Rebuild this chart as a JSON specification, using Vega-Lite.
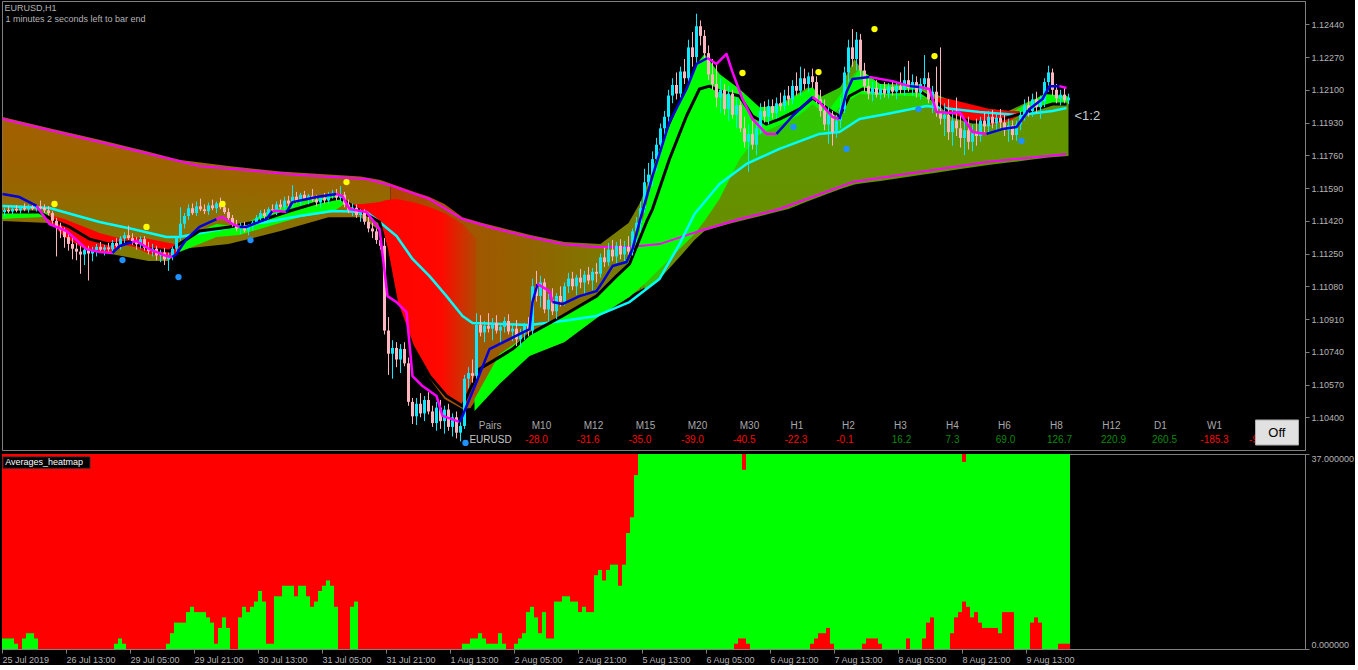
{
"$schema":"https://vega.github.io/schema/vega-lite/v6.json",
"background":"#000000",
"padding":{"left":1,"top":0,"right":0,"bottom":0},
"spacing":2,
"config":{"view":{"stroke":"#808080","strokeWidth":1},"font":"Liberation Sans","axis":{"domainColor":"#808080","tickColor":"#808080","labelColor":"#b4b4b4","labelFont":"Liberation Sans","labelFontSize":9,"tickSize":4,"grid":false,"title":null}},
"datasets":{
"cd":[
{"k":0,"o":1.11465,"h":1.11488,"l":1.11446,"c":1.11476},{"k":1,"o":1.11476,"h":1.11495,"l":1.11459,"c":1.11468},{"k":2,"o":1.11468,"h":1.1149,"l":1.11455,"c":1.11482},{"k":3,"o":1.11482,"h":1.11502,"l":1.11464,"c":1.11473},{"k":4,"o":1.11473,"h":1.11498,"l":1.11458,"c":1.11486},{"k":5,"o":1.11486,"h":1.1151,"l":1.1147,"c":1.11479},{"k":6,"o":1.11479,"h":1.11504,"l":1.11462,"c":1.11491},{"k":7,"o":1.11491,"h":1.11513,"l":1.11475,"c":1.11483},{"k":8,"o":1.11483,"h":1.115,"l":1.11468,"c":1.11494},{"k":9,"o":1.11494,"h":1.11525,"l":1.11478,"c":1.11487},
{"k":10,"o":1.11487,"h":1.11506,"l":1.1146,"c":1.11474},{"k":11,"o":1.11474,"h":1.11496,"l":1.11448,"c":1.1146},{"k":12,"o":1.1146,"h":1.1147,"l":1.11405,"c":1.1142},{"k":13,"o":1.1142,"h":1.11435,"l":1.11235,"c":1.1139},{"k":14,"o":1.1139,"h":1.1141,"l":1.1133,"c":1.1137},{"k":15,"o":1.1137,"h":1.11385,"l":1.1128,"c":1.11335},{"k":16,"o":1.11335,"h":1.1136,"l":1.11265,"c":1.113},{"k":17,"o":1.113,"h":1.1133,"l":1.1122,"c":1.11275},{"k":18,"o":1.11275,"h":1.11305,"l":1.11215,"c":1.1126},{"k":19,"o":1.1126,"h":1.1129,"l":1.11145,"c":1.11245},
{"k":20,"o":1.11245,"h":1.11285,"l":1.1119,"c":1.1127},{"k":21,"o":1.1127,"h":1.1129,"l":1.1111,"c":1.1125},{"k":22,"o":1.1125,"h":1.11285,"l":1.1121,"c":1.11268},{"k":23,"o":1.11268,"h":1.113,"l":1.11235,"c":1.11285},{"k":24,"o":1.11285,"h":1.1131,"l":1.11255,"c":1.1127},{"k":25,"o":1.1127,"h":1.11295,"l":1.1124,"c":1.11282},{"k":26,"o":1.11282,"h":1.11305,"l":1.11258,"c":1.11272},{"k":27,"o":1.11272,"h":1.1132,"l":1.1125,"c":1.11305},{"k":28,"o":1.11305,"h":1.1133,"l":1.11275,"c":1.1129},{"k":29,"o":1.1129,"h":1.1134,"l":1.1127,"c":1.11328},
{"k":30,"o":1.11328,"h":1.1136,"l":1.11305,"c":1.11345},{"k":31,"o":1.11345,"h":1.11395,"l":1.1132,"c":1.1133},{"k":32,"o":1.1133,"h":1.11355,"l":1.11295,"c":1.1131},{"k":33,"o":1.1131,"h":1.11335,"l":1.1127,"c":1.11298},{"k":34,"o":1.11298,"h":1.1134,"l":1.11275,"c":1.11325},{"k":35,"o":1.11325,"h":1.1134,"l":1.11265,"c":1.1128},{"k":36,"o":1.1128,"h":1.1131,"l":1.11245,"c":1.11262},{"k":37,"o":1.11262,"h":1.113,"l":1.11235,"c":1.11275},{"k":38,"o":1.11275,"h":1.1129,"l":1.11215,"c":1.1124},{"k":39,"o":1.1124,"h":1.1127,"l":1.11205,"c":1.11255},
{"k":40,"o":1.11255,"h":1.1128,"l":1.1119,"c":1.1122},{"k":41,"o":1.1122,"h":1.11255,"l":1.1116,"c":1.11235},{"k":42,"o":1.11235,"h":1.11285,"l":1.11215,"c":1.11275},{"k":43,"o":1.11275,"h":1.1134,"l":1.1126,"c":1.1133},{"k":44,"o":1.1133,"h":1.1149,"l":1.11315,"c":1.11405},{"k":45,"o":1.11405,"h":1.1146,"l":1.1138,"c":1.11445},{"k":46,"o":1.11445,"h":1.11505,"l":1.11425,"c":1.11485},{"k":47,"o":1.11485,"h":1.1151,"l":1.1145,"c":1.1146},{"k":48,"o":1.1146,"h":1.1152,"l":1.11445,"c":1.11495},{"k":49,"o":1.11495,"h":1.11535,"l":1.1147,"c":1.1148},
{"k":50,"o":1.1148,"h":1.11505,"l":1.11455,"c":1.1147},{"k":51,"o":1.1147,"h":1.11515,"l":1.1145,"c":1.115},{"k":52,"o":1.115,"h":1.1153,"l":1.11475,"c":1.11485},{"k":53,"o":1.11485,"h":1.1152,"l":1.1146,"c":1.1151},{"k":54,"o":1.1151,"h":1.1154,"l":1.1148,"c":1.1149},{"k":55,"o":1.1149,"h":1.11515,"l":1.11455,"c":1.11465},{"k":56,"o":1.11465,"h":1.11485,"l":1.1142,"c":1.11435},{"k":57,"o":1.11435,"h":1.1145,"l":1.1139,"c":1.114},{"k":58,"o":1.114,"h":1.11425,"l":1.11365,"c":1.1138},{"k":59,"o":1.1138,"h":1.1141,"l":1.1135,"c":1.11395},
{"k":60,"o":1.11395,"h":1.11415,"l":1.1136,"c":1.1137},{"k":61,"o":1.1137,"h":1.114,"l":1.11345,"c":1.1139},{"k":62,"o":1.1139,"h":1.1142,"l":1.1137,"c":1.1141},{"k":63,"o":1.1141,"h":1.1145,"l":1.11395,"c":1.11435},{"k":64,"o":1.11435,"h":1.11475,"l":1.1141,"c":1.1146},{"k":65,"o":1.1146,"h":1.1148,"l":1.1143,"c":1.11445},{"k":66,"o":1.11445,"h":1.1149,"l":1.1143,"c":1.1148},{"k":67,"o":1.1148,"h":1.11505,"l":1.11455,"c":1.1147},{"k":68,"o":1.1147,"h":1.1152,"l":1.1145,"c":1.11505},{"k":69,"o":1.11505,"h":1.1153,"l":1.1148,"c":1.1149},
{"k":70,"o":1.1149,"h":1.11545,"l":1.11475,"c":1.11525},{"k":71,"o":1.11525,"h":1.1155,"l":1.11495,"c":1.1151},{"k":72,"o":1.1151,"h":1.11605,"l":1.1149,"c":1.11545},{"k":73,"o":1.11545,"h":1.1157,"l":1.1151,"c":1.1152},{"k":74,"o":1.1152,"h":1.11565,"l":1.115,"c":1.11555},{"k":75,"o":1.11555,"h":1.11575,"l":1.11525,"c":1.11535},{"k":76,"o":1.11535,"h":1.1156,"l":1.11505,"c":1.1155},{"k":77,"o":1.1155,"h":1.11585,"l":1.1152,"c":1.1153},{"k":78,"o":1.1153,"h":1.11555,"l":1.11495,"c":1.11515},{"k":79,"o":1.11515,"h":1.1155,"l":1.1149,"c":1.1154},
{"k":80,"o":1.1154,"h":1.11565,"l":1.1151,"c":1.11525},{"k":81,"o":1.11525,"h":1.1157,"l":1.1151,"c":1.11555},{"k":82,"o":1.11555,"h":1.1158,"l":1.11535,"c":1.11565},{"k":83,"o":1.11565,"h":1.11585,"l":1.11525,"c":1.1154},{"k":84,"o":1.1154,"h":1.116,"l":1.1152,"c":1.11555},{"k":85,"o":1.11555,"h":1.1157,"l":1.1149,"c":1.11505},{"k":86,"o":1.11505,"h":1.1153,"l":1.1146,"c":1.11475},{"k":87,"o":1.11475,"h":1.1151,"l":1.11445,"c":1.11488},{"k":88,"o":1.11488,"h":1.11505,"l":1.11435,"c":1.1145},{"k":89,"o":1.1145,"h":1.1148,"l":1.11415,"c":1.11465},
{"k":90,"o":1.11465,"h":1.1148,"l":1.114,"c":1.11415},{"k":91,"o":1.11415,"h":1.1144,"l":1.1136,"c":1.1138},{"k":92,"o":1.1138,"h":1.1141,"l":1.1133,"c":1.11365},{"k":93,"o":1.11365,"h":1.1138,"l":1.113,"c":1.1132},{"k":94,"o":1.1132,"h":1.1134,"l":1.1127,"c":1.1129},{"k":95,"o":1.1129,"h":1.1133,"l":1.1083,"c":1.1085},{"k":96,"o":1.1085,"h":1.1092,"l":1.1062,"c":1.1073},{"k":97,"o":1.1073,"h":1.108,"l":1.106,"c":1.1076},{"k":98,"o":1.1076,"h":1.1079,"l":1.1066,"c":1.107},{"k":99,"o":1.107,"h":1.1078,"l":1.1063,"c":1.10755},
{"k":100,"o":1.10755,"h":1.1079,"l":1.10665,"c":1.1068},{"k":101,"o":1.1068,"h":1.1071,"l":1.1046,"c":1.1048},{"k":102,"o":1.1048,"h":1.105,"l":1.10365,"c":1.10405},{"k":103,"o":1.10405,"h":1.105,"l":1.1036,"c":1.1047},{"k":104,"o":1.1047,"h":1.10525,"l":1.104,"c":1.1042},{"k":105,"o":1.1042,"h":1.1051,"l":1.1038,"c":1.1049},{"k":106,"o":1.1049,"h":1.1053,"l":1.10415,"c":1.1043},{"k":107,"o":1.1043,"h":1.1046,"l":1.1035,"c":1.1037},{"k":108,"o":1.1037,"h":1.1048,"l":1.1033,"c":1.1045},{"k":109,"o":1.1045,"h":1.1049,"l":1.1034,"c":1.1038},
{"k":110,"o":1.1038,"h":1.1046,"l":1.10315,"c":1.1044},{"k":111,"o":1.1044,"h":1.1047,"l":1.1033,"c":1.1035},{"k":112,"o":1.1035,"h":1.1042,"l":1.103,"c":1.104},{"k":113,"o":1.104,"h":1.1043,"l":1.1029,"c":1.1032},{"k":114,"o":1.1032,"h":1.1038,"l":1.10275,"c":1.10355},{"k":115,"o":1.10355,"h":1.1062,"l":1.1034,"c":1.106},{"k":116,"o":1.106,"h":1.1066,"l":1.1055,"c":1.1063},{"k":117,"o":1.1063,"h":1.107,"l":1.1058,"c":1.10615},{"k":118,"o":1.10615,"h":1.1094,"l":1.106,"c":1.1088},{"k":119,"o":1.1088,"h":1.1093,"l":1.1082,"c":1.1084},
{"k":120,"o":1.1084,"h":1.109,"l":1.1079,"c":1.10875},{"k":121,"o":1.10875,"h":1.1094,"l":1.1084,"c":1.1086},{"k":122,"o":1.1086,"h":1.10915,"l":1.108,"c":1.1089},{"k":123,"o":1.1089,"h":1.1093,"l":1.10835,"c":1.1085},{"k":124,"o":1.1085,"h":1.1089,"l":1.1078,"c":1.1087},{"k":125,"o":1.1087,"h":1.1092,"l":1.1084,"c":1.109},{"k":126,"o":1.109,"h":1.10935,"l":1.1083,"c":1.10845},{"k":127,"o":1.10845,"h":1.1088,"l":1.10795,"c":1.1086},{"k":128,"o":1.1086,"h":1.10905,"l":1.1077,"c":1.10805},{"k":129,"o":1.10805,"h":1.1086,"l":1.10765,"c":1.10835},
{"k":130,"o":1.10835,"h":1.1089,"l":1.108,"c":1.10875},{"k":131,"o":1.10875,"h":1.1092,"l":1.1082,"c":1.1085},{"k":132,"o":1.1085,"h":1.1112,"l":1.1083,"c":1.1108},{"k":133,"o":1.1108,"h":1.1116,"l":1.11,"c":1.1103},{"k":134,"o":1.1103,"h":1.11135,"l":1.1097,"c":1.111},{"k":135,"o":1.111,"h":1.1112,"l":1.1094,"c":1.1096},{"k":136,"o":1.1096,"h":1.1104,"l":1.109,"c":1.1101},{"k":137,"o":1.1101,"h":1.1107,"l":1.1093,"c":1.1095},{"k":138,"o":1.1095,"h":1.11045,"l":1.1091,"c":1.1103},{"k":139,"o":1.1103,"h":1.1108,"l":1.10975,"c":1.11},
{"k":140,"o":1.11,"h":1.111,"l":1.1098,"c":1.1108},{"k":141,"o":1.1108,"h":1.1115,"l":1.11045,"c":1.1112},{"k":142,"o":1.1112,"h":1.11155,"l":1.1106,"c":1.1108},{"k":143,"o":1.1108,"h":1.1114,"l":1.11035,"c":1.11125},{"k":144,"o":1.11125,"h":1.1117,"l":1.1107,"c":1.111},{"k":145,"o":1.111,"h":1.1116,"l":1.1104,"c":1.1114},{"k":146,"o":1.1114,"h":1.1118,"l":1.1109,"c":1.1111},{"k":147,"o":1.1111,"h":1.11175,"l":1.1106,"c":1.11155},{"k":148,"o":1.11155,"h":1.112,"l":1.111,"c":1.11145},{"k":149,"o":1.11145,"h":1.1125,"l":1.11125,"c":1.1123},
{"k":150,"o":1.1123,"h":1.1128,"l":1.1118,"c":1.11205},{"k":151,"o":1.11205,"h":1.11305,"l":1.11185,"c":1.1127},{"k":152,"o":1.1127,"h":1.1132,"l":1.1121,"c":1.11235},{"k":153,"o":1.11235,"h":1.1131,"l":1.112,"c":1.1129},{"k":154,"o":1.1129,"h":1.11325,"l":1.1122,"c":1.11245},{"k":155,"o":1.11245,"h":1.11315,"l":1.1121,"c":1.11285},{"k":156,"o":1.11285,"h":1.1134,"l":1.1123,"c":1.1126},{"k":157,"o":1.1126,"h":1.1138,"l":1.1124,"c":1.11365},{"k":158,"o":1.11365,"h":1.1144,"l":1.1131,"c":1.1141},{"k":159,"o":1.1141,"h":1.1152,"l":1.1136,"c":1.11485},
{"k":160,"o":1.11485,"h":1.1169,"l":1.1146,"c":1.1162},{"k":161,"o":1.1162,"h":1.1172,"l":1.1156,"c":1.1166},{"k":162,"o":1.1166,"h":1.1178,"l":1.116,"c":1.1174},{"k":163,"o":1.1174,"h":1.1185,"l":1.1168,"c":1.11815},{"k":164,"o":1.11815,"h":1.11925,"l":1.1176,"c":1.119},{"k":165,"o":1.119,"h":1.1199,"l":1.1184,"c":1.1196},{"k":166,"o":1.1196,"h":1.121,"l":1.1192,"c":1.1207},{"k":167,"o":1.1207,"h":1.1216,"l":1.1203,"c":1.12125},{"k":168,"o":1.12125,"h":1.1219,"l":1.1205,"c":1.1208},{"k":169,"o":1.1208,"h":1.1222,"l":1.1206,"c":1.12195},
{"k":170,"o":1.12195,"h":1.1226,"l":1.1213,"c":1.1216},{"k":171,"o":1.1216,"h":1.1236,"l":1.1214,"c":1.1232},{"k":172,"o":1.1232,"h":1.124,"l":1.1222,"c":1.1227},{"k":173,"o":1.1227,"h":1.12495,"l":1.1224,"c":1.1243},{"k":174,"o":1.1243,"h":1.1246,"l":1.1233,"c":1.1238},{"k":175,"o":1.1238,"h":1.1241,"l":1.1226,"c":1.1229},{"k":176,"o":1.1229,"h":1.1233,"l":1.1215,"c":1.1218},{"k":177,"o":1.1218,"h":1.1226,"l":1.121,"c":1.1213},{"k":178,"o":1.1213,"h":1.1223,"l":1.1201,"c":1.1206},{"k":179,"o":1.1206,"h":1.1216,"l":1.1198,"c":1.121},
{"k":180,"o":1.121,"h":1.1213,"l":1.1197,"c":1.12},{"k":181,"o":1.12,"h":1.1212,"l":1.1194,"c":1.1208},{"k":182,"o":1.1208,"h":1.121,"l":1.1195,"c":1.1197},{"k":183,"o":1.1197,"h":1.1206,"l":1.119,"c":1.1202},{"k":184,"o":1.1202,"h":1.1204,"l":1.1188,"c":1.119},{"k":185,"o":1.119,"h":1.1196,"l":1.118,"c":1.1183},{"k":186,"o":1.1183,"h":1.1192,"l":1.11675,"c":1.1187},{"k":187,"o":1.1187,"h":1.1194,"l":1.1179,"c":1.11815},{"k":188,"o":1.11815,"h":1.1193,"l":1.1176,"c":1.119},{"k":189,"o":1.119,"h":1.1203,"l":1.1187,"c":1.1199},
{"k":190,"o":1.1199,"h":1.1204,"l":1.1193,"c":1.1196},{"k":191,"o":1.1196,"h":1.1205,"l":1.1192,"c":1.12015},{"k":192,"o":1.12015,"h":1.1205,"l":1.1195,"c":1.1198},{"k":193,"o":1.1198,"h":1.1206,"l":1.1195,"c":1.1203},{"k":194,"o":1.1203,"h":1.12085,"l":1.1199,"c":1.12015},{"k":195,"o":1.12015,"h":1.121,"l":1.1199,"c":1.1207},{"k":196,"o":1.1207,"h":1.1212,"l":1.1202,"c":1.1205},{"k":197,"o":1.1205,"h":1.1215,"l":1.12025,"c":1.1212},{"k":198,"o":1.1212,"h":1.1219,"l":1.1207,"c":1.12095},{"k":199,"o":1.12095,"h":1.1222,"l":1.1207,"c":1.1216},
{"k":200,"o":1.1216,"h":1.1221,"l":1.121,"c":1.1213},{"k":201,"o":1.1213,"h":1.1219,"l":1.1209,"c":1.1217},{"k":202,"o":1.1217,"h":1.1221,"l":1.1211,"c":1.1214},{"k":203,"o":1.1214,"h":1.1217,"l":1.1203,"c":1.1205},{"k":204,"o":1.1205,"h":1.121,"l":1.1196,"c":1.1199},{"k":205,"o":1.1199,"h":1.1205,"l":1.1189,"c":1.1192},{"k":206,"o":1.1192,"h":1.1201,"l":1.1182,"c":1.1197},{"k":207,"o":1.1197,"h":1.1199,"l":1.1181,"c":1.1188},{"k":208,"o":1.1188,"h":1.1197,"l":1.1185,"c":1.1194},{"k":209,"o":1.1194,"h":1.1206,"l":1.119,"c":1.12},
{"k":210,"o":1.12,"h":1.1222,"l":1.1198,"c":1.1219},{"k":211,"o":1.1219,"h":1.1236,"l":1.1214,"c":1.1232},{"k":212,"o":1.1232,"h":1.12415,"l":1.1222,"c":1.1226},{"k":213,"o":1.1226,"h":1.124,"l":1.122,"c":1.1236},{"k":214,"o":1.1236,"h":1.1239,"l":1.1216,"c":1.122},{"k":215,"o":1.122,"h":1.1224,"l":1.1209,"c":1.1212},{"k":216,"o":1.1212,"h":1.1217,"l":1.1205,"c":1.1208},{"k":217,"o":1.1208,"h":1.1214,"l":1.1204,"c":1.1211},{"k":218,"o":1.1211,"h":1.1215,"l":1.1206,"c":1.12075},{"k":219,"o":1.12075,"h":1.1213,"l":1.1205,"c":1.12105},
{"k":220,"o":1.12105,"h":1.1214,"l":1.1206,"c":1.1208},{"k":221,"o":1.1208,"h":1.12135,"l":1.12055,"c":1.12115},{"k":222,"o":1.12115,"h":1.1215,"l":1.1207,"c":1.1209},{"k":223,"o":1.1209,"h":1.1214,"l":1.1205,"c":1.1212},{"k":224,"o":1.1212,"h":1.1219,"l":1.1208,"c":1.121},{"k":225,"o":1.121,"h":1.1222,"l":1.1207,"c":1.1215},{"k":226,"o":1.1215,"h":1.1225,"l":1.1209,"c":1.1211},{"k":227,"o":1.1211,"h":1.1218,"l":1.1207,"c":1.1214},{"k":228,"o":1.1214,"h":1.1217,"l":1.1206,"c":1.12085},{"k":229,"o":1.12085,"h":1.1216,"l":1.1205,"c":1.1213},
{"k":230,"o":1.1213,"h":1.1228,"l":1.121,"c":1.1216},{"k":231,"o":1.1216,"h":1.1219,"l":1.1203,"c":1.1205},{"k":232,"o":1.1205,"h":1.1212,"l":1.1198,"c":1.1209},{"k":233,"o":1.1209,"h":1.1222,"l":1.1196,"c":1.1199},{"k":234,"o":1.1199,"h":1.1232,"l":1.1192,"c":1.1195},{"k":235,"o":1.1195,"h":1.1203,"l":1.1186,"c":1.1197},{"k":236,"o":1.1197,"h":1.1205,"l":1.1184,"c":1.1188},{"k":237,"o":1.1188,"h":1.12,"l":1.1181,"c":1.1194},{"k":238,"o":1.1194,"h":1.1206,"l":1.1186,"c":1.119},{"k":239,"o":1.119,"h":1.1197,"l":1.118,"c":1.1185},
{"k":240,"o":1.1185,"h":1.1194,"l":1.1176,"c":1.1189},{"k":241,"o":1.1189,"h":1.1196,"l":1.1179,"c":1.1183},{"k":242,"o":1.1183,"h":1.1192,"l":1.1178,"c":1.1188},{"k":243,"o":1.1188,"h":1.1195,"l":1.1181,"c":1.1186},{"k":244,"o":1.1186,"h":1.1196,"l":1.1183,"c":1.1194},{"k":245,"o":1.1194,"h":1.1198,"l":1.1188,"c":1.1191},{"k":246,"o":1.1191,"h":1.1199,"l":1.1188,"c":1.1196},{"k":247,"o":1.1196,"h":1.11995,"l":1.119,"c":1.11925},{"k":248,"o":1.11925,"h":1.1198,"l":1.1189,"c":1.11955},{"k":249,"o":1.11955,"h":1.12,"l":1.119,"c":1.1193},
{"k":250,"o":1.1193,"h":1.1197,"l":1.1186,"c":1.1189},{"k":251,"o":1.1189,"h":1.1195,"l":1.1183,"c":1.11915},{"k":252,"o":1.11915,"h":1.1194,"l":1.1184,"c":1.11865},{"k":253,"o":1.11865,"h":1.1194,"l":1.11835,"c":1.1192},{"k":254,"o":1.1192,"h":1.1199,"l":1.1189,"c":1.1197},{"k":255,"o":1.1197,"h":1.1205,"l":1.1194,"c":1.1202},{"k":256,"o":1.1202,"h":1.12065,"l":1.1196,"c":1.1199},{"k":257,"o":1.1199,"h":1.1208,"l":1.1196,"c":1.1205},{"k":258,"o":1.1205,"h":1.1209,"l":1.1198,"c":1.1201},{"k":259,"o":1.1201,"h":1.1207,"l":1.1195,"c":1.1204},
{"k":260,"o":1.1204,"h":1.1216,"l":1.1201,"c":1.1214},{"k":261,"o":1.1214,"h":1.12225,"l":1.1209,"c":1.1219},{"k":262,"o":1.1219,"h":1.1221,"l":1.1207,"c":1.121},{"k":263,"o":1.121,"h":1.1213,"l":1.1203,"c":1.12055},{"k":264,"o":1.12055,"h":1.121,"l":1.1202,"c":1.12075},{"k":265,"o":1.12075,"h":1.1211,"l":1.1203,"c":1.12045},{"k":266,"o":1.12045,"h":1.1208,"l":1.12025,"c":1.1206}
],
"ar":[
{"r":"L","k":-0.5,"t":1.11959,"b":1.11419},{"r":"L","k":11,"t":1.11902,"b":1.11408},{"r":"L","k":24,"t":1.11839,"b":1.11258},{"r":"L","k":36,"t":1.11778,"b":1.11211},{"r":"L","k":41,"t":1.11751,"b":1.11211},{"r":"L","k":44,"t":1.11735,"b":1.11273},{"r":"L","k":56,"t":1.11704,"b":1.11299},{"r":"L","k":69,"t":1.11676,"b":1.11367},{"r":"L","k":81,"t":1.1166,"b":1.11439},{"r":"L","k":89,"t":1.1165,"b":1.11439},{"r":"L","k":94,"t":1.11632,"b":1.11367},{"r":"L","k":96.5,"t":1.11613,"b":1.11222},
{"r":"M","k":96.5,"t":1.11613,"b":1.11222},{"r":"M","k":99,"t":1.11595,"b":1.10972},{"r":"M","k":102.5,"t":1.11569,"b":1.10754},{"r":"M","k":106,"t":1.11546,"b":1.10609},{"r":"M","k":110,"t":1.11507,"b":1.10495},{"r":"M","k":114.5,"t":1.11439,"b":1.10443},{"r":"M","k":116.5,"t":1.11427,"b":1.10448},{"r":"M","k":119,"t":1.11411,"b":1.10526},{"r":"M","k":124,"t":1.11385,"b":1.10588},{"r":"M","k":127.5,"t":1.11367,"b":1.10677},{"r":"M","k":131.5,"t":1.11346,"b":1.10723},{"r":"M","k":140,"t":1.1131,"b":1.10791},{"r":"M","k":149,"t":1.11299,"b":1.10941},{"r":"M","k":156,"t":1.11408,"b":1.11029},{"r":"M","k":159,"t":1.11517,"b":1.11061},
{"r":"R","k":159,"t":1.11517,"b":1.11061},{"r":"R","k":164,"t":1.11803,"b":1.11123},{"r":"R","k":169,"t":1.12026,"b":1.11237},{"r":"R","k":172.5,"t":1.12182,"b":1.1132},{"r":"R","k":175,"t":1.1227,"b":1.11367},{"r":"R","k":177.5,"t":1.12208,"b":1.11382},{"r":"R","k":181,"t":1.12109,"b":1.11403},{"r":"R","k":184,"t":1.12047,"b":1.11419},{"r":"R","k":186,"t":1.12005,"b":1.11429},{"r":"R","k":191,"t":1.12,"b":1.11455},{"r":"R","k":196,"t":1.12052,"b":1.11481},{"r":"R","k":201,"t":1.12114,"b":1.11523},{"r":"R","k":205,"t":1.12052,"b":1.11554},{"r":"R","k":209,"t":1.12114,"b":1.11585},{"r":"R","k":212.5,"t":1.1226,"b":1.11608},{"r":"R","k":215,"t":1.12182,"b":1.11616},{"r":"R","k":219,"t":1.1213,"b":1.11626},{"r":"R","k":229,"t":1.12127,"b":1.11658},{"r":"R","k":232.5,"t":1.12078,"b":1.11668},{"r":"R","k":239,"t":1.12026,"b":1.11689},{"r":"R","k":246,"t":1.12,"b":1.11709},{"r":"R","k":251,"t":1.1199,"b":1.11722},{"r":"R","k":256,"t":1.12039,"b":1.11735},{"r":"R","k":261,"t":1.12068,"b":1.11748},{"r":"R","k":266,"t":1.1206,"b":1.11756},
{"r":"G","k":160,"t":1.11455,"b":1.11058},{"r":"G","k":163.75,"t":1.11793,"b":1.11118},{"r":"G","k":168.75,"t":1.12026,"b":1.11299},{"r":"G","k":172.5,"t":1.12182,"b":1.11455},{"r":"G","k":175,"t":1.1227,"b":1.11517},{"r":"G","k":178.75,"t":1.12182,"b":1.11611},{"r":"G","k":183.75,"t":1.1205,"b":1.1169},{"r":"G","k":188.75,"t":1.12003,"b":1.11743},{"r":"G","k":193.75,"t":1.12016,"b":1.11793},{"r":"G","k":198.75,"t":1.12078,"b":1.11831},{"r":"G","k":203.75,"t":1.1206,"b":1.11871},{"r":"G","k":208.75,"t":1.1211,"b":1.11881},{"r":"G","k":213.75,"t":1.1221,"b":1.11948},{"r":"G","k":218.75,"t":1.1213,"b":1.11969},{"r":"G","k":226.25,"t":1.12114,"b":1.12005},{"r":"G","k":232.5,"t":1.12052,"b":1.12018},
{"r":"g1","k":-0.5,"t":1.11465,"b":1.11429},{"r":"g1","k":3.75,"t":1.11471,"b":1.11434},{"r":"g1","k":8.75,"t":1.11471,"b":1.11439},{"r":"g1","k":10.75,"t":1.1146,"b":1.11445},
{"r":"g2","k":43.75,"t":1.11284,"b":1.11258},{"r":"g2","k":48.75,"t":1.11367,"b":1.11299},{"r":"g2","k":53,"t":1.11403,"b":1.11336},{"r":"g2","k":58.75,"t":1.11388,"b":1.11346},{"r":"g2","k":65.5,"t":1.11465,"b":1.11388},{"r":"g2","k":73.75,"t":1.11517,"b":1.11439},{"r":"g2","k":82,"t":1.11548,"b":1.11465},{"r":"g2","k":85,"t":1.11543,"b":1.11507},
{"r":"r1","k":11.25,"t":1.1145,"b":1.11419},{"r":"r1","k":15,"t":1.11429,"b":1.11336},{"r":"r1","k":20,"t":1.11388,"b":1.11273},{"r":"r1","k":23.75,"t":1.11356,"b":1.11258},{"r":"r1","k":27.5,"t":1.11336,"b":1.11263},{"r":"r1","k":30,"t":1.11325,"b":1.11294},{"r":"r1","k":32.5,"t":1.11336,"b":1.11284},{"r":"r1","k":36.25,"t":1.11325,"b":1.11248},{"r":"r1","k":40,"t":1.1131,"b":1.11232},{"r":"r1","k":42.5,"t":1.11299,"b":1.11248},{"r":"r1","k":43.75,"t":1.11284,"b":1.11273},
{"r":"g3","k":117.5,"t":1.10495,"b":1.10433},{"r":"g3","k":123.75,"t":1.10729,"b":1.10573},{"r":"g3","k":131.25,"t":1.10832,"b":1.10718},{"r":"g3","k":140,"t":1.10926,"b":1.10791},{"r":"g3","k":148.75,"t":1.1104,"b":1.10926},{"r":"g3","k":156.25,"t":1.11211,"b":1.11024},{"r":"g3","k":160,"t":1.11455,"b":1.11092},{"r":"g3","k":163.75,"t":1.11793,"b":1.1117},{"r":"g3","k":168.75,"t":1.12026,"b":1.11273},{"r":"g3","k":172.5,"t":1.12218,"b":1.11351},{"r":"g3","k":175,"t":1.12286,"b":1.11419},{"r":"g3","k":178.75,"t":1.12182,"b":1.11533},{"r":"g3","k":183.75,"t":1.12104,"b":1.11741},{"r":"g3","k":188.75,"t":1.1201,"b":1.11871},{"r":"g3","k":193.75,"t":1.12016,"b":1.11917},{"r":"g3","k":198.75,"t":1.12078,"b":1.11969},{"r":"g3","k":202,"t":1.12114,"b":1.12026},{"r":"g3","k":206.25,"t":1.12,"b":1.11959},{"r":"g3","k":210,"t":1.12104,"b":1.12031},{"r":"g3","k":213.75,"t":1.12208,"b":1.12078},{"r":"g3","k":218.75,"t":1.1213,"b":1.12073},{"r":"g3","k":226.25,"t":1.12114,"b":1.12068},{"r":"g3","k":230,"t":1.12094,"b":1.12062},{"r":"g3","k":232.5,"t":1.12052,"b":1.12031},
{"r":"g4","k":252.5,"t":1.1199,"b":1.11959},{"r":"g4","k":256.25,"t":1.12036,"b":1.1199},{"r":"g4","k":260,"t":1.12078,"b":1.12016},{"r":"g4","k":265.75,"t":1.12068,"b":1.12031},
{"r":"r2","k":232.5,"t":1.12062,"b":1.12036},{"r":"r2","k":236.25,"t":1.12052,"b":1.11974},{"r":"r2","k":241.25,"t":1.12026,"b":1.11933},{"r":"r2","k":246.25,"t":1.12,"b":1.11917},{"r":"r2","k":251.25,"t":1.1199,"b":1.11938},{"r":"r2","k":253.75,"t":1.1199,"b":1.11969},
{"r":"rm","k":86.25,"t":1.11507,"b":1.11497},{"r":"rm","k":89.5,"t":1.11507,"b":1.11465},{"r":"rm","k":93.75,"t":1.11517,"b":1.11414},{"r":"rm","k":95.5,"t":1.11528,"b":1.11273},{"r":"rm","k":98,"t":1.11533,"b":1.10998},{"r":"rm","k":102,"t":1.11517,"b":1.1077},{"r":"rm","k":106.25,"t":1.11491,"b":1.10614},{"r":"rm","k":110.5,"t":1.11455,"b":1.10511},{"r":"rm","k":114.5,"t":1.11403,"b":1.10459},{"r":"rm","k":118,"t":1.11325,"b":1.10521}
],
"ln":[
{"s":"e","k":-0.5,"p":1.11948},{"s":"e","k":23.75,"p":1.11829},{"s":"e","k":48.75,"p":1.11704},{"s":"e","k":73.75,"p":1.11658},{"s":"e","k":90.5,"p":1.11637},{"s":"e","k":96.25,"p":1.11606},{"s":"e","k":106.25,"p":1.11533},{"s":"e","k":114.5,"p":1.11429},{"s":"e","k":123,"p":1.11377},{"s":"e","k":131.25,"p":1.11336},{"s":"e","k":139.5,"p":1.11299},{"s":"e","k":148,"p":1.11284},{"s":"e","k":156.25,"p":1.11284},{"s":"e","k":163.75,"p":1.11299},{"s":"e","k":173.75,"p":1.11367},{"s":"e","k":183.75,"p":1.11429},{"s":"e","k":193.75,"p":1.11481},{"s":"e","k":212,"p":1.11621},{"s":"e","k":228.75,"p":1.11673},{"s":"e","k":245.5,"p":1.11725},{"s":"e","k":265.5,"p":1.11767},
{"s":"c","k":-0.5,"p":1.11497},{"s":"c","k":11.25,"p":1.11486},{"s":"c","k":23.75,"p":1.11414},{"s":"c","k":32,"p":1.11377},{"s":"c","k":40.5,"p":1.11336},{"s":"c","k":43.75,"p":1.11336},{"s":"c","k":57,"p":1.11388},{"s":"c","k":65.5,"p":1.11414},{"s":"c","k":73.75,"p":1.11445},{"s":"c","k":82,"p":1.11471},{"s":"c","k":90.5,"p":1.11465},{"s":"c","k":93.75,"p":1.11414},{"s":"c","k":98,"p":1.11341},{"s":"c","k":102,"p":1.11222},{"s":"c","k":106.25,"p":1.11133},{"s":"c","k":110.5,"p":1.11029},{"s":"c","k":114.5,"p":1.10926},{"s":"c","k":117,"p":1.10889},{"s":"c","k":131.25,"p":1.10879},{"s":"c","k":139.5,"p":1.109},{"s":"c","k":148,"p":1.10926},{"s":"c","k":156.25,"p":1.10998},{"s":"c","k":163.75,"p":1.11118},{"s":"c","k":168.75,"p":1.11299},{"s":"c","k":172.5,"p":1.11455},{"s":"c","k":178.75,"p":1.11611},{"s":"c","k":185.5,"p":1.11715},{"s":"c","k":193.75,"p":1.11793},{"s":"c","k":203.75,"p":1.11871},{"s":"c","k":208.75,"p":1.11881},{"s":"c","k":213.75,"p":1.11948},{"s":"c","k":220.5,"p":1.11974},{"s":"c","k":230.5,"p":1.12016},{"s":"c","k":237,"p":1.12},{"s":"c","k":243.75,"p":1.11985},{"s":"c","k":253.75,"p":1.11969},{"s":"c","k":262,"p":1.1199},{"s":"c","k":265.5,"p":1.12005},
{"s":"b","k":-0.5,"p":1.11465},{"s":"b","k":8.75,"p":1.11465},{"s":"b","k":12.5,"p":1.11419},{"s":"b","k":16.25,"p":1.11388},{"s":"b","k":21.25,"p":1.11325},{"s":"b","k":26.25,"p":1.11299},{"s":"b","k":31.25,"p":1.1131},{"s":"b","k":36.25,"p":1.11273},{"s":"b","k":41.25,"p":1.11263},{"s":"b","k":43.75,"p":1.11299},{"s":"b","k":48.75,"p":1.11367},{"s":"b","k":56.25,"p":1.11388},{"s":"b","k":63.75,"p":1.11419},{"s":"b","k":71.25,"p":1.11471},{"s":"b","k":78.75,"p":1.11517},{"s":"b","k":83.75,"p":1.11538},{"s":"b","k":89.5,"p":1.11465},{"s":"b","k":93.75,"p":1.11414},{"s":"b","k":95.5,"p":1.11273},{"s":"b","k":98,"p":1.10998},{"s":"b","k":102,"p":1.1077},{"s":"b","k":106.25,"p":1.10614},{"s":"b","k":110.5,"p":1.10511},{"s":"b","k":114.5,"p":1.10459},{"s":"b","k":118.75,"p":1.10651},{"s":"b","k":123,"p":1.10703},{"s":"b","k":127,"p":1.10754},{"s":"b","k":131.25,"p":1.10832},{"s":"b","k":139.5,"p":1.10926},{"s":"b","k":148,"p":1.11029},{"s":"b","k":153,"p":1.11133},{"s":"b","k":156.25,"p":1.11196},{"s":"b","k":160.5,"p":1.11414},{"s":"b","k":162,"p":1.11481},{"s":"b","k":166.25,"p":1.11741},{"s":"b","k":170.5,"p":1.11964},{"s":"b","k":173.75,"p":1.12104},{"s":"b","k":176.25,"p":1.12119},{"s":"b","k":178.75,"p":1.12094},{"s":"b","k":183.75,"p":1.12068},{"s":"b","k":187,"p":1.11964},{"s":"b","k":190.5,"p":1.11922},{"s":"b","k":193.75,"p":1.11948},{"s":"b","k":198.75,"p":1.12},{"s":"b","k":202,"p":1.12057},{"s":"b","k":207,"p":1.11985},{"s":"b","k":208.75,"p":1.11964},{"s":"b","k":211.25,"p":1.12068},{"s":"b","k":214.5,"p":1.12104},{"s":"b","k":220.5,"p":1.12088},{"s":"b","k":228.75,"p":1.12094},{"s":"b","k":233,"p":1.12036},{"s":"b","k":237,"p":1.11964},{"s":"b","k":242,"p":1.11933},{"s":"b","k":245.5,"p":1.11933},{"s":"b","k":249.5,"p":1.11948},{"s":"b","k":253.75,"p":1.11974},{"s":"b","k":258,"p":1.12},{"s":"b","k":262,"p":1.12026},{"s":"b","k":265.5,"p":1.12026}
],
"fl":[
{"g":1,"d":"u","k":-0.5,"p":1.11559},{"g":1,"d":"u","k":3.75,"p":1.11543},{"g":1,"d":"u","k":8,"p":1.11497},
{"g":2,"d":"d","k":8,"p":1.11497},{"g":2,"d":"d","k":11.25,"p":1.11403},{"g":2,"d":"d","k":15.5,"p":1.11367},{"g":2,"d":"d","k":20.5,"p":1.11273},{"g":2,"d":"d","k":23.75,"p":1.11258},{"g":2,"d":"d","k":27,"p":1.11253},
{"g":3,"d":"u","k":27,"p":1.11253},{"g":3,"d":"u","k":28.75,"p":1.11289},{"g":3,"d":"u","k":32,"p":1.1131},
{"g":4,"d":"d","k":32,"p":1.1131},{"g":4,"d":"d","k":33,"p":1.11315},{"g":4,"d":"d","k":36.25,"p":1.11273},{"g":4,"d":"d","k":40.5,"p":1.11237},{"g":4,"d":"d","k":42,"p":1.11232},
{"g":5,"d":"u","k":42,"p":1.11232},{"g":5,"d":"u","k":43,"p":1.11248},{"g":5,"d":"u","k":45.5,"p":1.11325},{"g":5,"d":"u","k":48.75,"p":1.11388},{"g":5,"d":"u","k":53,"p":1.11429},
{"g":6,"d":"d","k":53,"p":1.11429},{"g":6,"d":"d","k":54.5,"p":1.11439},{"g":6,"d":"d","k":57,"p":1.11403},{"g":6,"d":"d","k":58.75,"p":1.11388},
{"g":7,"d":"u","k":58.75,"p":1.11388},{"g":7,"d":"u","k":60.5,"p":1.11388},{"g":7,"d":"u","k":65.5,"p":1.11429},{"g":7,"d":"u","k":67,"p":1.11471},
{"g":8,"d":"d","k":67,"p":1.11471},{"g":8,"d":"d","k":68.75,"p":1.11471},{"g":8,"d":"d","k":70.5,"p":1.11465},
{"g":9,"d":"u","k":70.5,"p":1.11465},{"g":9,"d":"u","k":72,"p":1.11517},{"g":9,"d":"u","k":78,"p":1.11543},{"g":9,"d":"u","k":83,"p":1.11559},
{"g":10,"d":"d","k":83,"p":1.11559},{"g":10,"d":"d","k":84.5,"p":1.11548},{"g":10,"d":"d","k":86.25,"p":1.11481},{"g":10,"d":"d","k":90.5,"p":1.11465},{"g":10,"d":"d","k":93.75,"p":1.11377},{"g":10,"d":"d","k":95.75,"p":1.11029},{"g":10,"d":"d","k":98,"p":1.10998},{"g":10,"d":"d","k":100.5,"p":1.10946},{"g":10,"d":"d","k":102,"p":1.10614},{"g":10,"d":"d","k":104.5,"p":1.10562},{"g":10,"d":"d","k":108,"p":1.10511},{"g":10,"d":"d","k":109.5,"p":1.10407},{"g":10,"d":"d","k":113.75,"p":1.10376},
{"g":11,"d":"u","k":113.75,"p":1.10376},{"g":11,"d":"u","k":114.5,"p":1.10407},{"g":11,"d":"u","k":118,"p":1.10583},{"g":11,"d":"u","k":121.25,"p":1.10754},{"g":11,"d":"u","k":126.25,"p":1.10806},{"g":11,"d":"u","k":131.25,"p":1.10858},{"g":11,"d":"u","k":132,"p":1.10998},{"g":11,"d":"u","k":133.25,"p":1.11092},
{"g":12,"d":"d","k":133.25,"p":1.11092},{"g":12,"d":"d","k":136.25,"p":1.11055},{"g":12,"d":"d","k":137,"p":1.10998},
{"g":13,"d":"u","k":137,"p":1.10998},{"g":13,"d":"u","k":139.5,"p":1.10988},{"g":13,"d":"u","k":143.75,"p":1.11029},{"g":13,"d":"u","k":148,"p":1.11055},{"g":13,"d":"u","k":149.5,"p":1.11102},{"g":13,"d":"u","k":152,"p":1.11185},{"g":13,"d":"u","k":155.5,"p":1.11206},{"g":13,"d":"u","k":157,"p":1.11273},{"g":13,"d":"u","k":158.75,"p":1.11414},{"g":13,"d":"u","k":162,"p":1.11652},{"g":13,"d":"u","k":166.25,"p":1.11933},{"g":13,"d":"u","k":170.5,"p":1.12104},{"g":13,"d":"u","k":173,"p":1.12234},{"g":13,"d":"u","k":175.75,"p":1.12265},
{"g":14,"d":"d","k":175.75,"p":1.12265},{"g":14,"d":"d","k":178,"p":1.12234},{"g":14,"d":"d","k":180.5,"p":1.12286},{"g":14,"d":"d","k":182,"p":1.12192},{"g":14,"d":"d","k":184.5,"p":1.12052},{"g":14,"d":"d","k":187,"p":1.11948},{"g":14,"d":"d","k":190.5,"p":1.11871},{"g":14,"d":"d","k":193,"p":1.11871},
{"g":15,"d":"u","k":193,"p":1.11871},{"g":15,"d":"u","k":197,"p":1.11964},{"g":15,"d":"u","k":202,"p":1.12062},
{"g":16,"d":"d","k":202,"p":1.12062},{"g":16,"d":"d","k":203.75,"p":1.12036},{"g":16,"d":"d","k":207,"p":1.11959},{"g":16,"d":"d","k":208.75,"p":1.11948},
{"g":17,"d":"u","k":208.75,"p":1.11948},{"g":17,"d":"u","k":210.5,"p":1.12088},{"g":17,"d":"u","k":212,"p":1.12156},{"g":17,"d":"u","k":216.25,"p":1.12166},
{"g":18,"d":"d","k":216.25,"p":1.12166},{"g":18,"d":"d","k":222,"p":1.12145},{"g":18,"d":"d","k":226.25,"p":1.12119},
{"g":19,"d":"u","k":226.25,"p":1.12119},{"g":19,"d":"u","k":228.75,"p":1.12114},
{"g":20,"d":"d","k":228.75,"p":1.12114},{"g":20,"d":"d","k":231.25,"p":1.12104},{"g":20,"d":"d","k":233,"p":1.11985},{"g":20,"d":"d","k":237,"p":1.11979},{"g":20,"d":"d","k":238.75,"p":1.11985},{"g":20,"d":"d","k":242,"p":1.11881},{"g":20,"d":"d","k":245.5,"p":1.11871},
{"g":21,"d":"u","k":245.5,"p":1.11871},{"g":21,"d":"u","k":249.5,"p":1.11896},{"g":21,"d":"u","k":253,"p":1.11907},{"g":21,"d":"u","k":256.25,"p":1.12},{"g":21,"d":"u","k":259.5,"p":1.12052},{"g":21,"d":"u","k":261.25,"p":1.12119},{"g":21,"d":"u","k":263.75,"p":1.12119},
{"g":22,"d":"d","k":263.75,"p":1.12119},{"g":22,"d":"d","k":265.5,"p":1.12109}
],
"dt":[
{"s":"y","k":12.5,"p":1.11507},{"s":"y","k":35.5,"p":1.11388},{"s":"y","k":54.5,"p":1.11507},{"s":"y","k":85.5,"p":1.11621},{"s":"y","k":184.5,"p":1.12187},{"s":"y","k":203.5,"p":1.12192},{"s":"y","k":217.5,"p":1.12415},{"s":"y","k":232.5,"p":1.12275},
{"s":"b","k":29.5,"p":1.11216},{"s":"b","k":43.5,"p":1.11128},{"s":"b","k":61.5,"p":1.1132},{"s":"b","k":115.25,"p":1.10267},{"s":"b","k":197.25,"p":1.11907},{"s":"b","k":210.5,"p":1.11793},{"s":"b","k":228.5,"p":1.12},{"s":"b","k":254.25,"p":1.11834}
],
"tx":[
{"k":121.4,"p":1.10357,"t":"Pairs","g":"h"},{"k":134.25,"p":1.10357,"t":"M10","g":"h"},{"k":147.25,"p":1.10357,"t":"M12","g":"h"},{"k":160.25,"p":1.10357,"t":"M15","g":"h"},{"k":173.25,"p":1.10357,"t":"M20","g":"h"},{"k":186.25,"p":1.10357,"t":"M30","g":"h"},{"k":198.1,"p":1.10357,"t":"H1","g":"h"},{"k":211,"p":1.10357,"t":"H2","g":"h"},{"k":224,"p":1.10357,"t":"H3","g":"h"},{"k":237,"p":1.10357,"t":"H4","g":"h"},{"k":250,"p":1.10357,"t":"H6","g":"h"},{"k":263,"p":1.10357,"t":"H8","g":"h"},{"k":276.75,"p":1.10357,"t":"H12","g":"h"},{"k":289,"p":1.10357,"t":"D1","g":"h"},{"k":302.5,"p":1.10357,"t":"W1","g":"h"},
{"k":121.5,"p":1.10282,"t":"EURUSD","g":"e"},{"k":133,"p":1.10282,"t":"-28.0","g":"n"},{"k":145.9,"p":1.10282,"t":"-31.6","g":"n"},{"k":158.85,"p":1.10282,"t":"-35.0","g":"n"},{"k":172,"p":1.10282,"t":"-39.0","g":"n"},{"k":184.9,"p":1.10282,"t":"-40.5","g":"n"},{"k":197.85,"p":1.10282,"t":"-22.3","g":"n"},{"k":210.1,"p":1.10282,"t":"-0.1","g":"n"},{"k":224.25,"p":1.10282,"t":"16.2","g":"p"},{"k":237,"p":1.10282,"t":"7.3","g":"p"},{"k":250.25,"p":1.10282,"t":"69.0","g":"p"},{"k":263.75,"p":1.10282,"t":"126.7","g":"p"},{"k":277.25,"p":1.10282,"t":"220.9","g":"p"},{"k":290,"p":1.10282,"t":"260.5","g":"p"},{"k":302.5,"p":1.10282,"t":"-185.3","g":"n"},{"k":314,"p":1.10282,"t":"-97.4","g":"n"}
],
"hg":[{"k":-0.5,"k2":158.5,"s":"d"},{"k":158.5,"k2":266.5,"s":"u"}],
"hb":[
{"k":0,"v":2,"s":"u"},{"k":1,"v":2,"s":"u"},{"k":2,"v":2,"s":"u"},{"k":3,"v":1,"s":"u"},{"k":5,"v":2,"s":"u"},{"k":6,"v":3,"s":"u"},{"k":7,"v":3,"s":"u"},{"k":8,"v":2,"s":"u"},{"k":28,"v":1,"s":"u"},{"k":29,"v":2,"s":"u"},{"k":30,"v":1,"s":"u"},
{"k":41,"v":1,"s":"u"},{"k":42,"v":3,"s":"u"},{"k":43,"v":5,"s":"u"},{"k":44,"v":5,"s":"u"},{"k":45,"v":5,"s":"u"},{"k":46,"v":7,"s":"u"},{"k":47,"v":8,"s":"u"},{"k":48,"v":7,"s":"u"},{"k":49,"v":7,"s":"u"},{"k":50,"v":7,"s":"u"},{"k":51,"v":6,"s":"u"},{"k":52,"v":5,"s":"u"},{"k":53,"v":1,"s":"u"},{"k":54,"v":4,"s":"u"},{"k":55,"v":6,"s":"u"},{"k":56,"v":4,"s":"u"},
{"k":59,"v":6,"s":"u"},{"k":60,"v":8,"s":"u"},{"k":61,"v":7,"s":"u"},{"k":62,"v":8,"s":"u"},{"k":63,"v":9,"s":"u"},{"k":64,"v":11,"s":"u"},{"k":65,"v":9,"s":"u"},{"k":66,"v":1,"s":"u"},{"k":67,"v":1,"s":"u"},{"k":68,"v":10,"s":"u"},{"k":69,"v":10,"s":"u"},{"k":70,"v":12,"s":"u"},{"k":71,"v":12,"s":"u"},{"k":72,"v":12,"s":"u"},{"k":73,"v":10,"s":"u"},{"k":74,"v":12,"s":"u"},{"k":75,"v":12,"s":"u"},{"k":76,"v":10,"s":"u"},{"k":77,"v":8,"s":"u"},{"k":78,"v":9,"s":"u"},{"k":79,"v":11,"s":"u"},{"k":80,"v":12,"s":"u"},{"k":81,"v":13,"s":"u"},{"k":82,"v":12,"s":"u"},{"k":83,"v":8,"s":"u"},{"k":87,"v":8,"s":"u"},{"k":88,"v":9,"s":"u"},
{"k":115,"v":1,"s":"u"},{"k":116,"v":1,"s":"u"},{"k":117,"v":2,"s":"u"},{"k":118,"v":2,"s":"u"},{"k":119,"v":3,"s":"u"},{"k":120,"v":2,"s":"u"},{"k":121,"v":1,"s":"u"},{"k":122,"v":1,"s":"u"},{"k":123,"v":1,"s":"u"},{"k":124,"v":3,"s":"u"},{"k":125,"v":1,"s":"u"},{"k":128,"v":1,"s":"u"},{"k":129,"v":2,"s":"u"},{"k":130,"v":3,"s":"u"},{"k":131,"v":7,"s":"u"},{"k":132,"v":8,"s":"u"},{"k":133,"v":6,"s":"u"},{"k":134,"v":3,"s":"u"},{"k":135,"v":7,"s":"u"},{"k":136,"v":2,"s":"u"},{"k":137,"v":2,"s":"u"},{"k":138,"v":9,"s":"u"},{"k":139,"v":9,"s":"u"},
{"k":140,"v":10,"s":"u"},{"k":141,"v":10,"s":"u"},{"k":142,"v":9,"s":"u"},{"k":143,"v":9,"s":"u"},{"k":144,"v":7,"s":"u"},{"k":145,"v":8,"s":"u"},{"k":146,"v":7,"s":"u"},{"k":147,"v":7,"s":"u"},{"k":148,"v":14,"s":"u"},{"k":149,"v":15,"s":"u"},{"k":150,"v":13,"s":"u"},{"k":151,"v":15,"s":"u"},{"k":152,"v":16,"s":"u"},{"k":153,"v":16,"s":"u"},{"k":154,"v":12,"s":"u"},{"k":155,"v":16,"s":"u"},{"k":156,"v":22,"s":"u"},{"k":157,"v":25,"s":"u"},{"k":158,"v":33,"s":"u"},
{"k":183,"v":1,"s":"d"},{"k":184,"v":2,"s":"d"},{"k":185,"v":2,"s":"d"},{"k":186,"v":1,"s":"d"},{"k":202,"v":1,"s":"d"},{"k":203,"v":2,"s":"d"},{"k":204,"v":3,"s":"d"},{"k":205,"v":3,"s":"d"},{"k":206,"v":4,"s":"d"},{"k":207,"v":1,"s":"d"},{"k":215,"v":1,"s":"d"},{"k":216,"v":2,"s":"d"},{"k":217,"v":2,"s":"d"},{"k":218,"v":2,"s":"d"},{"k":219,"v":1,"s":"d"},{"k":226,"v":2,"s":"d"},{"k":230,"v":2,"s":"d"},{"k":231,"v":5,"s":"d"},{"k":232,"v":6,"s":"d"},
{"k":237,"v":3,"s":"d"},{"k":238,"v":6,"s":"d"},{"k":239,"v":7,"s":"d"},{"k":240,"v":9,"s":"d"},{"k":241,"v":8,"s":"d"},{"k":242,"v":6,"s":"d"},{"k":243,"v":7,"s":"d"},{"k":244,"v":5,"s":"d"},{"k":245,"v":4,"s":"d"},{"k":246,"v":4,"s":"d"},{"k":247,"v":4,"s":"d"},{"k":248,"v":4,"s":"d"},{"k":249,"v":3,"s":"d"},{"k":250,"v":7,"s":"d"},{"k":251,"v":7,"s":"d"},{"k":252,"v":7,"s":"d"},{"k":257,"v":5,"s":"d"},{"k":258,"v":6,"s":"d"},{"k":259,"v":5,"s":"d"},{"k":264,"v":1,"s":"d"},{"k":265,"v":1,"s":"d"},{"k":266,"v":1,"s":"d"}
],
"hn":[{"k":185,"a":34,"v":37,"s":"d"},{"k":240,"a":35.5,"v":37,"s":"d"}]
},
"vconcat":[
{
"width":1303,"height":449,
"resolve":{"scale":{"color":"independent"}},
"encoding":{"x":{"field":"k","type":"quantitative","scale":{"domain":[-0.625,325.125],"nice":false,"zero":false,"padding":0},"axis":null}},
"layer":[
{"data":{"name":"ar"},"transform":[{"filter":"datum.r=='L'"}],"mark":{"type":"area","clip":true,"opacity":1,"color":{"gradient":"linear","x1":0,"y1":0,"x2":0,"y2":1,"stops":[{"offset":0,"color":"#a36000"},{"offset":0.45,"color":"#996400"},{"offset":1,"color":"#7e7c00"}]}},
 "encoding":{"y":{"field":"t","type":"quantitative","scale":{"domain":[1.102302,1.125609],"nice":false,"zero":false,"padding":0},"axis":{"orient":"right","values":[1.104,1.1057,1.1074,1.1091,1.1108,1.1125,1.1142,1.1159,1.1176,1.1193,1.121,1.1227,1.1244],"tickCount":30,"format":".5f","title":null,"labelPadding":2,"labelOverlap":false}},"y2":{"field":"b"}}},
{"data":{"name":"ar"},"transform":[{"filter":"datum.r=='M'"}],"mark":{"type":"area","clip":true,"opacity":1,"color":{"gradient":"linear","x1":0,"y1":0,"x2":1,"y2":0,"stops":[{"offset":0,"color":"#b04000"},{"offset":0.35,"color":"#a05800"},{"offset":0.6,"color":"#8f6600"},{"offset":1,"color":"#738200"}]}},
 "encoding":{"y":{"field":"t","type":"quantitative"},"y2":{"field":"b"}}},
{"data":{"name":"ar"},"transform":[{"filter":"datum.r=='R'"}],"mark":{"type":"area","clip":true,"opacity":1,"color":{"gradient":"linear","x1":0,"y1":0,"x2":0,"y2":1,"stops":[{"offset":0,"color":"#5c9a00"},{"offset":1,"color":"#6b8a00"}]}},
 "encoding":{"y":{"field":"t","type":"quantitative"},"y2":{"field":"b"}}},
{"data":{"name":"ar"},"transform":[{"filter":"datum.r=='G'"}],"mark":{"type":"area","clip":true,"opacity":1,"color":"#33c400"},
 "encoding":{"y":{"field":"t","type":"quantitative"},"y2":{"field":"b"}}},
{"data":{"name":"ar"},"transform":[{"filter":"indexof(['g1','g2','g3','g4','r1','r2'],datum.r)>=0"}],"mark":{"type":"area","clip":true,"opacity":1},
 "encoding":{"y":{"field":"t","type":"quantitative"},"y2":{"field":"b"},"color":{"field":"r","type":"nominal","scale":{"domain":["g1","g2","g3","g4","r1","r2"],"range":["#00ff00","#00ff00","#00ff00","#00ff00","#ff0000","#ff0000"]},"legend":null}}},
{"data":{"name":"ar"},"transform":[{"filter":"datum.r=='rm'"}],"mark":{"type":"area","clip":true,"opacity":1,"color":{"gradient":"linear","x1":0,"y1":0,"x2":1,"y2":0,"stops":[{"offset":0,"color":"#ff0000"},{"offset":0.72,"color":"#ff0800"},{"offset":1,"color":"#b04a00"}]}},
 "encoding":{"y":{"field":"t","type":"quantitative"},"y2":{"field":"b"}}},
{"data":{"name":"ln"},"transform":[{"filter":"datum.s=='e'"}],"mark":{"type":"line","clip":true,"color":"#ff00ff","strokeWidth":2,"strokeJoin":"round"},"encoding":{"y":{"field":"p","type":"quantitative"}}},
{"data":{"name":"ln"},"transform":[{"filter":"datum.s=='c'"}],"mark":{"type":"line","clip":true,"color":"#00ffff","strokeWidth":2.5,"strokeJoin":"round"},"encoding":{"y":{"field":"p","type":"quantitative"}}},
{"data":{"name":"ln"},"transform":[{"filter":"datum.s=='b'"}],"mark":{"type":"line","clip":true,"color":"#000000","strokeWidth":3,"strokeJoin":"round"},"encoding":{"y":{"field":"p","type":"quantitative"}}},
{"data":{"name":"cd"},"mark":{"type":"rule","clip":true,"strokeWidth":1},"encoding":{"y":{"field":"l","type":"quantitative"},"y2":{"field":"h"},"color":{"condition":{"test":"datum.c>=datum.o","value":"#10e8ff"},"value":"#ffb6c1"}}},
{"data":{"name":"cd"},"mark":{"type":"bar","clip":true,"size":3},"encoding":{"y":{"field":"o","type":"quantitative"},"y2":{"field":"c"},"color":{"condition":{"test":"datum.c>=datum.o","value":"#10e8ff"},"value":"#ffb6c1"}}},
{"data":{"name":"fl"},"mark":{"type":"line","clip":true,"strokeWidth":2.5,"strokeJoin":"round"},"encoding":{"y":{"field":"p","type":"quantitative"},"detail":{"field":"g","type":"nominal"},"color":{"field":"d","type":"nominal","scale":{"domain":["u","d"],"range":["#0000d8","#ff00ff"]},"legend":null}}},
{"data":{"name":"dt"},"mark":{"type":"point","clip":true,"filled":true,"opacity":1,"size":40,"shape":"circle"},"encoding":{"y":{"field":"p","type":"quantitative"},"color":{"field":"s","type":"nominal","scale":{"domain":["y","b"],"range":["#ffff00","#1e90ff"]},"legend":null}}},
{"data":{"name":"tx"},"mark":{"type":"text","clip":true,"align":"center","baseline":"middle","fontSize":10,"font":"Liberation Sans"},"encoding":{"y":{"field":"p","type":"quantitative"},"text":{"field":"t"},"color":{"field":"g","type":"nominal","scale":{"domain":["h","e","n","p"],"range":["#a8a8a8","#c8c8c8","#ff0000","#0a8a0a"]},"legend":null}}},
{"data":{"values":[{"k":0,"p":1.12522,"t":"EURUSD,H1"},{"k":0.25,"p":1.12465,"t":"1 minutes 2 seconds left to bar end"}]},"mark":{"type":"text","clip":true,"align":"left","baseline":"middle","fontSize":9,"font":"Liberation Sans","color":"#b4b4b4"},"encoding":{"y":{"field":"p","type":"quantitative"},"text":{"field":"t"}}},
{"data":{"values":[{"k":267.5,"p":1.11964,"t":"<1:2"}]},"mark":{"type":"text","clip":true,"align":"left","baseline":"middle","fontSize":13,"font":"Liberation Sans","color":"#c4ccd4"},"encoding":{"y":{"field":"p","type":"quantitative"},"text":{"field":"t"}}},
{"data":{"values":[{"k":312.75,"k2":323.5,"p":1.10386,"p2":1.10256}]},"mark":{"type":"rect","clip":true,"fill":"#e1e1e1","stroke":"#adadad","strokeWidth":1},"encoding":{"x2":{"field":"k2"},"y":{"field":"p","type":"quantitative"},"y2":{"field":"p2"}}},
{"data":{"values":[{"k":318.1,"p":1.10321,"t":"Off"}]},"mark":{"type":"text","clip":true,"align":"center","baseline":"middle","fontSize":13,"font":"Liberation Sans","color":"#000000"},"encoding":{"y":{"field":"p","type":"quantitative"},"text":{"field":"t"}}}
]
},
{
"width":1303,"height":195,
"encoding":{"x":{"field":"k","type":"quantitative","scale":{"domain":[-0.5,325.25],"nice":false,"zero":false,"padding":0},"axis":{"values":[-0.5,15.5,31.5,47.5,63.5,79.5,95.5,111.5,127.5,143.5,159.5,175.5,191.5,207.5,223.5,239.5,255.5],"tickCount":40,"labelExpr":"['25 Jul 2019','26 Jul 13:00','29 Jul 05:00','29 Jul 21:00','30 Jul 13:00','31 Jul 05:00','31 Jul 21:00','1 Aug 13:00','2 Aug 05:00','2 Aug 21:00','5 Aug 13:00','6 Aug 05:00','6 Aug 21:00','7 Aug 13:00','8 Aug 05:00','8 Aug 21:00','9 Aug 13:00'][round((datum.value+0.5)/16)]","labelAlign":"left","labelPadding":2,"labelOverlap":false,"labelFlush":false,"labelBound":false,"title":null}}},
"layer":[
{"data":{"name":"hg"},"mark":{"type":"rect","clip":true},"encoding":{"x2":{"field":"k2"},"y":{"datum":0,"type":"quantitative","scale":{"domain":[0,37],"nice":false,"zero":false,"padding":0},"axis":{"orient":"right","values":[0,37],"format":".6f","labelFlush":true,"labelOverlap":false,"title":null,"labelPadding":2}},"y2":{"datum":37},"color":{"field":"s","type":"nominal","scale":{"domain":["u","d"],"range":["#00ff00","#ff0000"]},"legend":null}}},
{"data":{"name":"hb"},"mark":{"type":"bar","clip":true,"size":4},"encoding":{"y":{"field":"v","type":"quantitative"},"y2":{"datum":0},"color":{"field":"s","type":"nominal","legend":null}}},
{"data":{"name":"hn"},"mark":{"type":"bar","clip":true,"size":4},"encoding":{"y":{"field":"a","type":"quantitative"},"y2":{"field":"v"},"color":{"field":"s","type":"nominal","legend":null}}},
{"data":{"values":[{"k":-0.25,"k2":21.5,"v":34.3,"v2":36.45}]},"mark":{"type":"rect","clip":true,"fill":"#000000","stroke":"#303030"},"encoding":{"x2":{"field":"k2"},"y":{"field":"v","type":"quantitative"},"y2":{"field":"v2"}}},
{"data":{"values":[{"k":0.3,"v":35.4,"t":"Averages_heatmap"}]},"mark":{"type":"text","clip":true,"align":"left","baseline":"middle","fontSize":9,"font":"Liberation Sans","color":"#ffffff"},"encoding":{"y":{"field":"v","type":"quantitative"},"text":{"field":"t"}}}
]
}
]
}
